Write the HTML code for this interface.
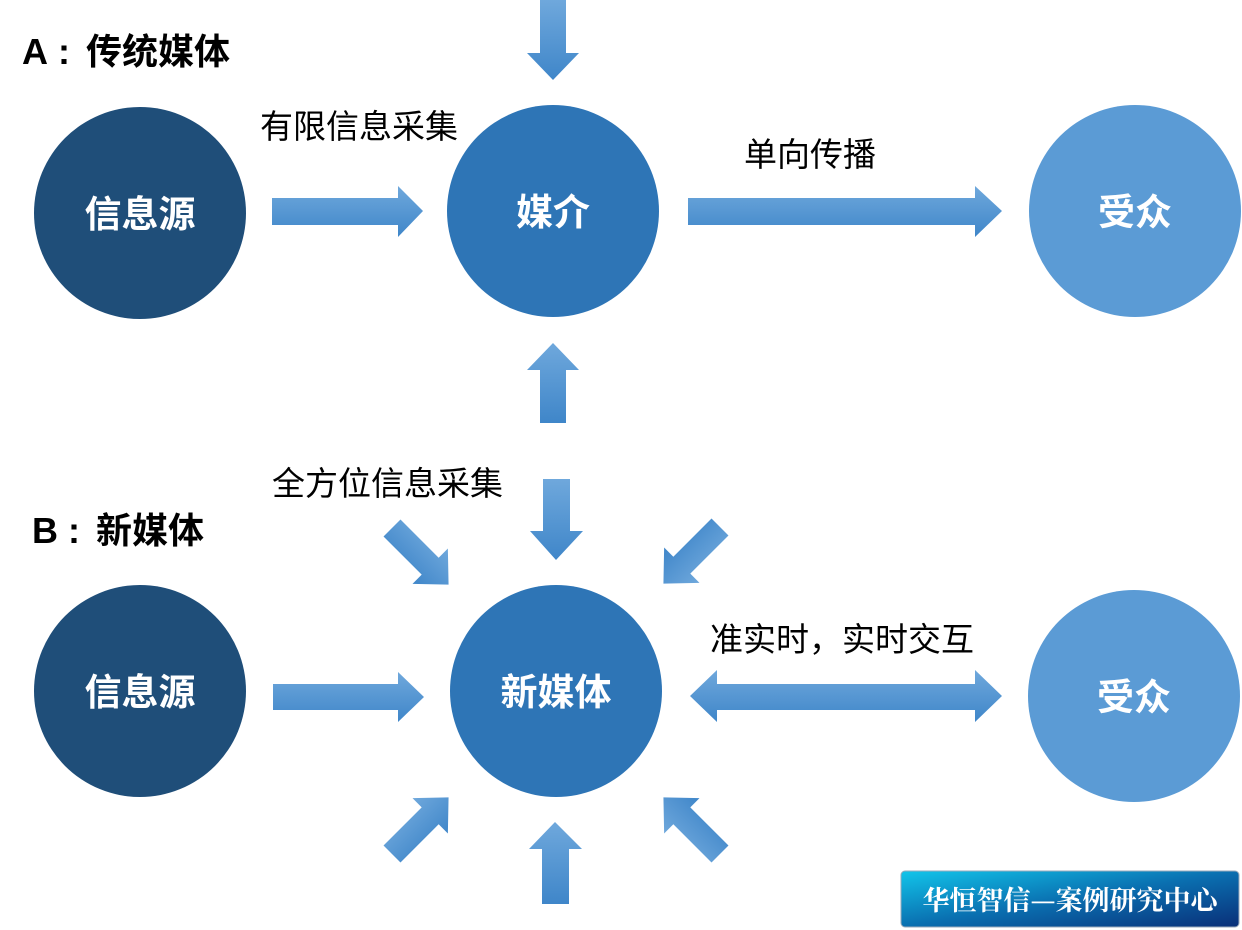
<!DOCTYPE html>
<html><head><meta charset="utf-8"><style>
body{margin:0;background:#fff}
svg{display:block}
</style></head><body>
<svg width="1242" height="930" xmlns="http://www.w3.org/2000/svg" font-family="Liberation Sans, Noto Sans CJK SC, sans-serif">
<defs>
<linearGradient id="ag" x1="0" y1="0" x2="0" y2="1"><stop offset="0" stop-color="#6fa8dc"/><stop offset="1" stop-color="#3f86c9"/></linearGradient>
<linearGradient id="bg" x1="0" y1="0" x2="1" y2="1"><stop offset="0" stop-color="#12c5ea"/><stop offset="0.5" stop-color="#0a6fb0"/><stop offset="1" stop-color="#0a2f78"/></linearGradient>
<g id="da"><polygon points="0,-12 54,-12 54,-25 80,0 54,25 54,12 0,12" fill="url(#ag)"/></g>
</defs>
<text x="22" y="64" font-size="36" font-weight="bold">A<tspan dx="10">:</tspan><tspan dx="16">传统媒体</tspan></text>
<text x="32" y="543" font-size="36" font-weight="bold">B<tspan dx="10">:</tspan><tspan dx="16">新媒体</tspan></text>
<text x="260" y="138" font-size="33">有限信息采集</text>
<text x="744" y="166" font-size="33">单向传播</text>
<text x="272" y="495" font-size="33">全方位信息采集</text>
<text x="710" y="651" font-size="33">准实时，实时交互</text>

<circle cx="140" cy="213" r="106" fill="#1f4e79"/>
<circle cx="553" cy="211" r="106" fill="#2e75b6"/>
<circle cx="1135" cy="211" r="106" fill="#5b9bd5"/>
<circle cx="140" cy="691" r="106" fill="#1f4e79"/>
<circle cx="556" cy="691" r="106" fill="#2e75b6"/>
<circle cx="1134" cy="696" r="106" fill="#5b9bd5"/>
<g fill="#fff" font-size="37" font-weight="bold" text-anchor="middle">
<text x="140" y="227">信息源</text><text x="553" y="225">媒介</text><text x="1135" y="225">受众</text>
<text x="140" y="705">信息源</text><text x="556" y="705">新媒体</text><text x="1134" y="710">受众</text>
</g>

<g fill="url(#ag)">
<polygon points="272,198 398,198 398,186 423,211 398,237 398,225 272,225"/>
<polygon points="688,198 975,198 975,186 1002,211 975,237 975,225 688,225"/>
<polygon points="540,0 566,0 566,53 579,53 553,80 527,53 540,53"/>
<polygon points="540,423 566,423 566,370 579,370 553,343 527,370 540,370"/>
<polygon points="543,479 570,479 570,531 583,531 556,560 530,531 543,531"/>
<polygon points="542,904 569,904 569,849 582,849 555,822 529,849 542,849"/>
<polygon points="273,684 398,684 398,672 424,697 398,722 398,710 273,710"/>
<polygon points="690,696 717,670 717,684 975,684 975,670 1002,696 975,722 975,710 717,710 717,722"/>
</g>
<use href="#da" transform="translate(392,528) rotate(45)"/>
<use href="#da" transform="translate(720,527) rotate(135)"/>
<use href="#da" transform="translate(392,854) rotate(-45)"/>
<use href="#da" transform="translate(720,854) rotate(-135)"/>

<rect x="901" y="871" width="338" height="56" rx="4" fill="url(#bg)" stroke="#9ab" stroke-width="1"/>
<text x="1070" y="910" font-size="27" font-weight="bold" fill="#fff" text-anchor="middle" font-family="Noto Serif CJK SC, serif">华恒智信—案例研究中心</text>
</svg>
</body></html>
